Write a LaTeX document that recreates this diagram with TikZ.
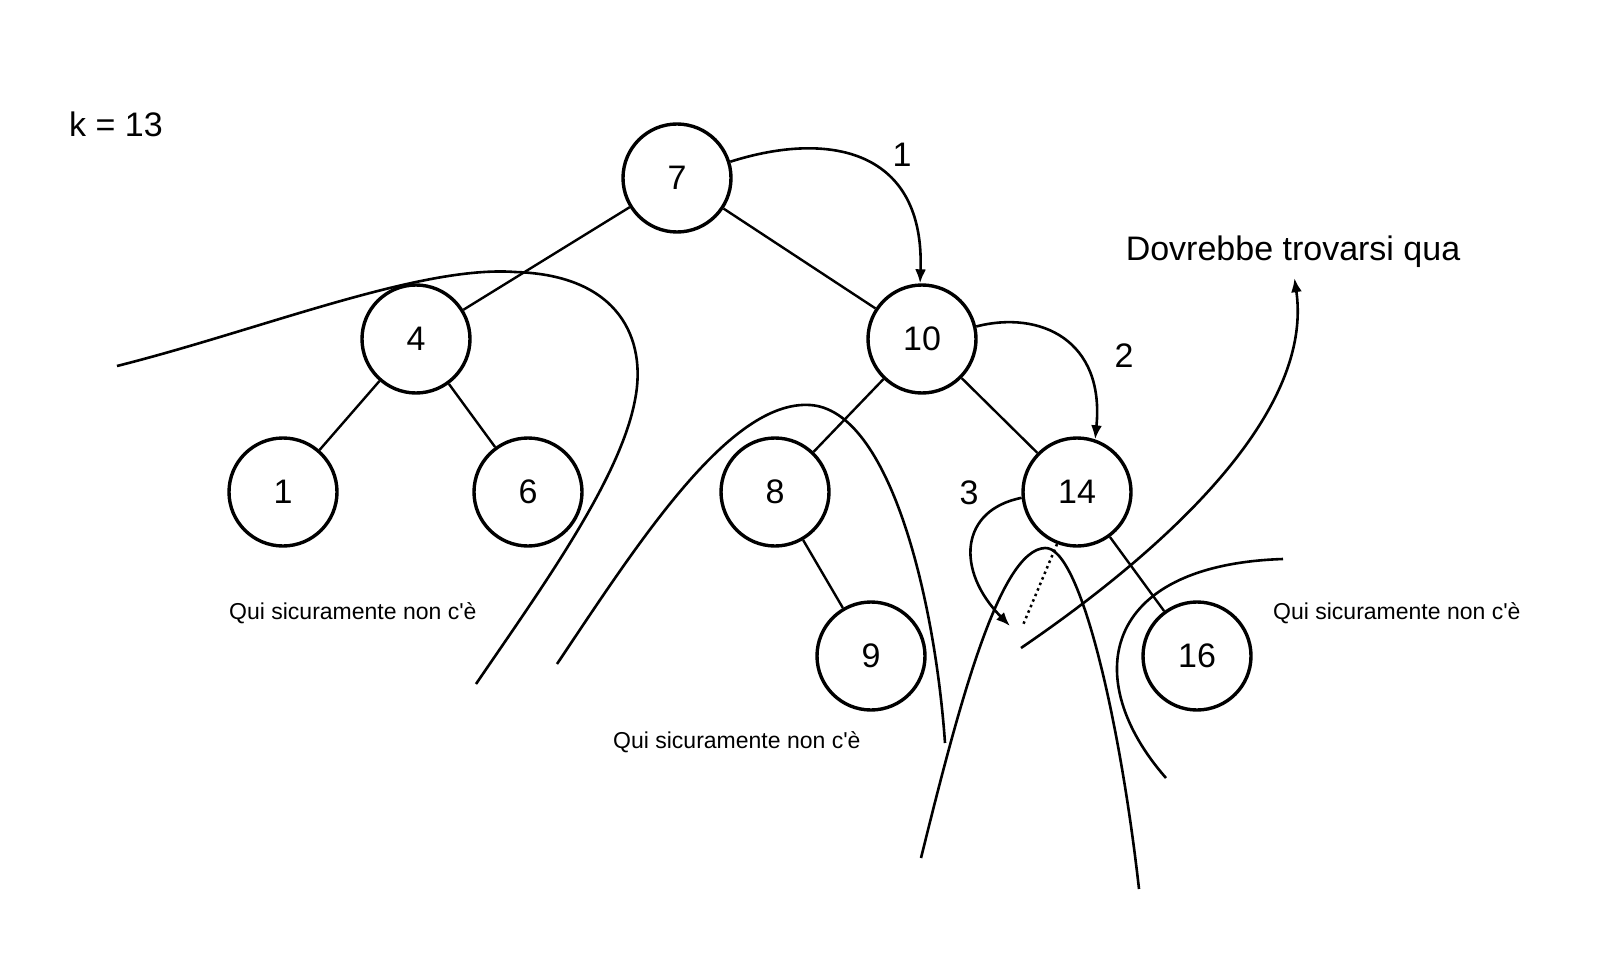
\documentclass[tikz,border=0pt]{standalone}
\usepackage{fontspec}
\setmainfont{Liberation Sans}[Ligatures=TeXOff]
\usetikzlibrary{arrows.meta}
\begin{document}
\begin{tikzpicture}[x=1pt,y=-1pt,
  tnode/.style={circle,draw,line width=3.4pt,minimum size=108pt,inner sep=0pt,font=\fontsize{34}{40}\selectfont},
  tedge/.style={line width=2.4pt},
  cut/.style={line width=2.6pt},
  big/.style={font=\fontsize{34}{40}\selectfont,inner sep=0pt},
  small/.style={font=\fontsize{23}{28}\selectfont,inner sep=0pt},
  arr/.style={line width=2.6pt,-{Latex[length=14pt,width=11pt]}},
]
\useasboundingbox (0,0) rectangle (1624,968);

% tree nodes
\node[tnode] (n7)  at (677,178) {7};
\node[tnode] (n4)  at (416,339) {4};
\node[tnode] (n10) at (922,339) {10};
\node[tnode] (n1)  at (283,492) {1};
\node[tnode] (n6)  at (528,492) {6};
\node[tnode] (n8)  at (775,492) {8};
\node[tnode] (n14) at (1077,492) {14};
\node[tnode] (n9)  at (871,656) {9};
\node[tnode] (n16) at (1197,656) {16};

% tree edges
\draw[tedge] (n7) -- (n4);
\draw[tedge] (n7) -- (n10);
\draw[tedge] (n4) -- (n1);
\draw[tedge] (n4) -- (n6);
\draw[tedge] (n10) -- (n8);
\draw[tedge] (n10) -- (n14);
\draw[tedge] (n8) -- (n9);
\draw[tedge] (n14) -- (n16);

% texts
\node[big,anchor=base west] (k) at (69,137) {k = 13};
\node[big,anchor=base] (dov) at (1293,261) {Dovrebbe trovarsi qua};
\node[big,anchor=base] (l1) at (902,167) {1};
\node[big,anchor=base] (l2) at (1124,367) {2};
\node[big,anchor=base] (l3) at (969,504) {3};
\node[small,anchor=base west] (q1) at (229,619) {Qui sicuramente non c'è};
\node[small,anchor=base west] (q2) at (613,748) {Qui sicuramente non c'è};
\node[small,anchor=base west] (q3) at (1273,619) {Qui sicuramente non c'è};

% search arrows
\draw[arr] (n7.17) .. controls (830,130) and (925,150) .. (n10.92);
\draw[arr] (n10.13) .. controls (1040,310) and (1105,340) .. (n14.71);
\coordinate (a3end) at (1010,626);
\draw[arr] (n14.186) .. controls (960,510) and (955,570) .. (a3end);
\coordinate (dotend) at (1023,625);
\draw[line width=2.5pt,dash pattern=on 2.5pt off 3.5pt] (n14.249) -- (dotend);
\coordinate (dstart) at (1021,648);
\draw[arr,shorten >=10pt] (dstart) .. controls (1150,560) and (1315,420) .. (dov.south);

% cut curves
\draw[cut] (117,366) .. controls (260,330) and (420,265) .. (515,272)
                     .. controls (620,275) and (647,340) .. (635,400)
                     .. controls (620,480) and (540,590) .. (476,684);
\draw[cut] (557,664) .. controls (640,540) and (730,400) .. (810,405)
                     .. controls (890,410) and (935,600) .. (945,743);
\draw[cut] (921,858) .. controls (960,700) and (1000,550) .. (1045,548)
                     .. controls (1080,546) and (1120,720) .. (1139,889);
\draw[cut] (1283,559) .. controls (1100,565) and (1080,680) .. (1166,778);
\end{tikzpicture}
\end{document}
